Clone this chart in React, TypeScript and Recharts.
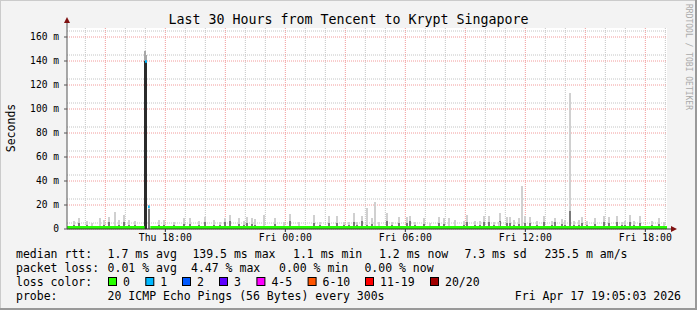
import { ComposedChart, Bar, Line, XAxis, YAxis, CartesianGrid, Cell } from 'recharts'

// minutes since Thu 13:05 (graph start), one smoke column per 5 min step that shows
const smokeT = [
  20, 35, 60, 75, 100, 110, 125, 145, 155, 170, 185, 205, 235, 238, 245, 275, 290, 320, 350,
  370, 395, 415, 440, 460, 475, 490, 515, 530, 540, 555, 565, 590, 625, 650, 670, 695,
  740, 760, 785, 810, 830, 845, 860, 870, 885, 900, 915, 925, 935, 960, 975, 995, 1020, 1030, 1045, 1070,
  1090, 1115, 1130, 1145, 1165, 1190, 1200, 1225, 1240, 1250, 1265, 1280, 1295, 1300, 1320, 1330, 1340, 1355, 1365, 1375, 1390, 1410, 1430,
  1455, 1465, 1485, 1495, 1510, 1520, 1535, 1545, 1560, 1585, 1610, 1625, 1650, 1665, 1675, 1690, 1700, 1720, 1755, 1775, 1790,
]
// top of smoke (ms)
const smokeHi = [
  7, 9, 6.7, 4.7, 9.5, 7.5, 10, 14.5, 7.5, 12, 7.5, 6.7, 148, 145, 20, 7.5, 7.5, 5.5, 9.5,
  9.5, 6.7, 10, 7.5, 6, 9, 11.6, 9, 6.7, 10, 9, 8, 11.6, 9, 5.5, 12.6, 5.5,
  11.6, 6, 11, 11, 6, 6, 13, 6, 11, 17.5, 9, 22.5, 5.5, 13, 6, 10, 10, 11, 6, 9.5,
  4.7, 10, 9, 9.5, 7.5, 6.7, 11.6, 6.7, 6.7, 11, 11, 6, 5.5, 13, 10, 10, 7.5, 9.5, 36, 11, 10, 6.7, 11,
  6.7, 9, 8.5, 7.5, 113, 6.7, 7.5, 10, 6.7, 9, 11, 10, 11, 6, 6.7, 12, 6.7, 11, 6.7, 9, 5.5,
]
// upper edge of the dark (dense) part of the smoke (ms)
const smokeMid = [
  3.5, 5, 3, 2.5, 2, 3.5, 6, 2, 3.5, 6, 3.5, 3, 140, 139, 17, 3, 3, 3, 4.5,
  4.5, 3, 6, 3.5, 3, 5.5, 7, 4, 3, 5, 4, 3.5, 2.5, 4, 2.5, 7, 2.5,
  5, 3, 5, 5, 3, 3, 6, 3, 6.5, 3, 4, 2, 2.5, 7, 3, 5, 5, 6.5, 3, 4.5,
  2.5, 5, 4, 2.5, 2.5, 3, 5.5, 3, 3, 5.5, 5.5, 3, 2.5, 6.5, 5, 5, 3.5, 4.5, 2, 5, 5, 3, 5.5,
  3, 5.5, 4, 3.5, 15, 3, 3.5, 5, 3, 4, 5.5, 5, 5.5, 3, 3, 6, 3, 5, 3, 4, 2.5,
]

const medianT = [0, 233, 234, 249, 250, 1800]
const medianV = [1.2, 1.2, null, null, 1.2, 1.2]
const lossT = [234, 240, 241, 243, 248]
const lossV = [139.5, 139.5, null, 18.6, 18.6]

const yTicks = [0, 20, 40, 60, 80, 100, 120, 140, 160]
const yMinor = [5, 10, 15, 25, 30, 35, 45, 50, 55, 65, 70, 75, 85, 90, 95, 105, 110, 115, 125, 130, 135, 145, 150, 155, 165]
const xTicks = [295, 655, 1015, 1375, 1735]
const xTickLabels = ['Thu 18:00', 'Fri 00:00', 'Fri 06:00', 'Fri 12:00', 'Fri 18:00']
const xMajor = [115, 295, 475, 655, 835, 1015, 1195, 1375, 1555, 1735]
const xMinor = [55, 175, 235, 355, 415, 535, 595, 715, 775, 895, 955, 1075, 1135, 1255, 1315, 1435, 1495, 1615, 1675, 1795]

const statsRtt = [
  ['1.7 ms avg', 107.6], ['139.5 ms max', 192.4], ['1.1 ms min', 293], ['1.2 ms now', 379],
  ['7.3 ms sd', 464.4], ['235.5 m am/s', 544.4],
] as const
const statsLoss = [
  ['0.01 % avg', 107.6], ['4.47 % max', 191], ['0.00 % min', 279], ['0.00 % now', 364.4],
] as const
const lossColors = [
  ['0', '#26ff00', 108], ['1', '#00b8ff', 145.3], ['2', '#0059ff', 182], ['3', '#5e00ff', 219],
  ['4-5', '#ff00ff', 256.4], ['6-10', '#ff5500', 307.6], ['11-19', '#ff0000', 365], ['20/20', '#a10000', 430],
] as const

const mono = '"DejaVu Sans Mono", monospace'

// fixed 2px wide smoke column, centred on the slot recharts gives the bar
const SmokeCol = (p: any) => {
  if (!p.height) return null
  return <rect x={p.x + p.width / 2 - 1} y={p.y} width={2} height={p.height} fill={p.fill} shapeRendering="crispEdges" />
}

export default function App() {
  const data = smokeT.map((t, i) => ({ t, dark: smokeMid[i], light: smokeHi[i] - smokeMid[i] }))
  const median = medianT.map((t, i) => ({ t, v: medianV[i] }))
  const loss = lossT.map((t, i) => ({ t, v: lossV[i] }))

  return (
    <div style={{ position: 'absolute', left: 0, top: 0, width: 697, height: 310, background: '#f3f3f3', fontFamily: mono }}>
      <ComposedChart width={697} height={310} data={data} margin={{ top: 28, right: 30, bottom: 61, left: 22 }}>
        <CartesianGrid horizontalValues={yMinor} verticalValues={xMinor} stroke="#c4c4c4" strokeDasharray="1 1" fill="#ffffff" />
        <CartesianGrid horizontalValues={yTicks} verticalValues={xMajor} stroke="#f29a9a" strokeDasharray="1 1" />
        <XAxis
          dataKey="t"
          type="number"
          domain={[0, 1800]}
          ticks={xTicks}
          tickFormatter={(v) => xTickLabels[xTicks.indexOf(v)]}
          tick={{ fill: '#000', fontSize: 9.8, fontFamily: mono }}
          tickSize={3}
          tickMargin={2}
          height={20}
          stroke="#333"
          allowDataOverflow
        />
        <YAxis
          type="number"
          domain={[0, 167.5]}
          ticks={yTicks}
          tickFormatter={(v) => (v === 0 ? '0' : `${v} m`)}
          tick={{ fill: '#000', fontSize: 9.6, fontFamily: mono }}
          tickSize={3}
          tickMargin={5}
          width={45}
          stroke="#555"
          allowDataOverflow
        />
        <Bar dataKey="dark" stackId="s" fill="#7a7a7a" shape={SmokeCol} isAnimationActive={false}>
          {data.map((d) => (
            <Cell key={d.t} fill={d.dark > 100 ? '#2b2b2b' : '#7a7a7a'} />
          ))}
        </Bar>
        <Bar dataKey="light" stackId="s" fill="#d0d0d0" shape={SmokeCol} isAnimationActive={false}>
          {data.map((d) => (
            <Cell key={d.t} fill={d.dark > 100 ? '#a8a8a8' : '#d0d0d0'} />
          ))}
        </Bar>
        <Line data={median} dataKey="v" stroke="#26ff00" strokeWidth={3} dot={false} isAnimationActive={false} />
        <Line data={loss} dataKey="v" stroke="#00b8ff" strokeWidth={2.5} dot={false} isAnimationActive={false} />
      </ComposedChart>

      <svg width={697} height={310} style={{ position: 'absolute', left: 0, top: 0, pointerEvents: 'none' }}>
        <rect x={0.5} y={0.5} width={696} height={309} fill="none" stroke="#cbcbcb" />
        <line x1={696} y1={0} x2={696} y2={310} stroke="#999" strokeWidth={2} />
        <line x1={0} y1={309} x2={697} y2={309} stroke="#999" strokeWidth={2} />
        <line x1={67} y1={28} x2={67} y2={22} stroke="#555" />
        <path d="M64,23 L70,23 L67,17 Z" fill="#7f1010" />
        <line x1={667} y1={229} x2={672} y2={229} stroke="#333" />
        <path d="M671,226 L671,232 L677,229 Z" fill="#7f1010" />

        <text x={348.5} y={19} textAnchor="middle" dominantBaseline="central" fontSize={13.3} fontFamily={mono} fill="#000">
          Last 30 Hours from Tencent to Krypt Singapore
        </text>
        <text x={11} y={128} textAnchor="middle" dominantBaseline="central" fontSize={11.5} fontFamily={mono}
          fill="#000" transform="rotate(-90 11 128)">
          Seconds
        </text>
        <text x={688} y={57} textAnchor="middle" dominantBaseline="central" fontSize={8} fontFamily={mono}
          fill="#aaa" transform="rotate(90 688 57)">
          RRDTOOL / TOBI OETIKER
        </text>

        <g fontSize={11.5} fontFamily={mono} fill="#000" dominantBaseline="central">
          <text x={16} y={254}>median rtt:</text>
          {statsRtt.map(([s, x]) => (
            <text key={s} x={x} y={254}>{s}</text>
          ))}
          <text x={16} y={268}>packet loss:</text>
          {statsLoss.map(([s, x]) => (
            <text key={s} x={x} y={268}>{s}</text>
          ))}
          <text x={16} y={282}>loss color:</text>
          {lossColors.map(([s, c, x]) => (
            <g key={s}>
              <rect x={x + 0.5} y={277.5} width={8} height={8} fill={c} stroke="#000" />
              <text x={x + 15} y={282}>{s}</text>
            </g>
          ))}
          <text x={16} y={296}>probe:</text>
          <text x={107.6} y={296}>20 ICMP Echo Pings (56 Bytes) every 300s</text>
          <text x={681} y={296} textAnchor="end">Fri Apr 17 19:05:03 2026</text>
        </g>
      </svg>
    </div>
  )
}
